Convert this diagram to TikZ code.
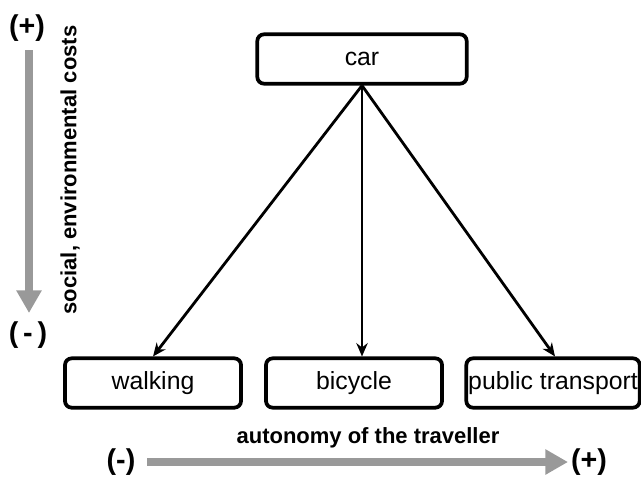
\documentclass[tikz,border=0pt]{standalone}
\usepackage{fontspec}
\setmainfont{Liberation Sans}
\usetikzlibrary{arrows.meta}
\definecolor{axisgray}{RGB}{153,153,153}
\begin{document}
\begin{tikzpicture}[x=0.75pt, y=-0.75pt,
    box/.style={draw, line width=2.8pt, rounded corners=5pt, minimum height=37pt, inner sep=0pt, align=center, font=\fontsize{18.6}{22}\selectfont},
    link/.style={line width=2.1pt, -{Stealth[length=10pt, width=8.5pt]}},
    axis/.style={axisgray, line width=6pt, -{Triangle[length=17pt, width=18pt]}},
    axislabel/.style={font=\bfseries\fontsize{16.5}{20}\selectfont},
    sign/.style={font=\bfseries\fontsize{21.5}{24}\selectfont, inner sep=0pt}
]
    \useasboundingbox (0,0) rectangle (641,476);
    % Modes
    \node[box, minimum width=157pt] (car) at (362,59) {car};
    \node[box, minimum width=132pt] (walking) at (153,383) {walking};
    \node[box, minimum width=132pt] (bicycle) at (354,383) {bicycle};
    \node[box, minimum width=130pt] (public) at (553,383) {public transport};
    \draw[link] (car.south) -- (walking.north);
    \draw[link] (car.south) -- (car.south |- bicycle.north);
    \draw[link] (car.south) -- ([xshift=1.5pt]public.north);

    % Costs axis
    \node[sign] (costplus) at (27,28) {(+)};
    \node[sign] (costminus) at (28,335) {(\,-\,)};
    \coordinate (costtop) at (29,50);
    \coordinate (costtip) at (29,313);
    \draw[axis] (costtop) -- (costtip);
    \node[axislabel, rotate=90] (costs) at (70,170) {social, environmental costs};

    % Autonomy axis
    \node[sign] (autminus) at (121,462) {(-)};
    \node[sign] (autplus) at (589,462) {(+)};
    \coordinate (autstart) at (147,462);
    \coordinate (auttip) at (568,462);
    \draw[axis] (autstart) -- (auttip);
    \node[axislabel] (autonomy) at (368,438) {autonomy of the traveller};
\end{tikzpicture}
\end{document}
